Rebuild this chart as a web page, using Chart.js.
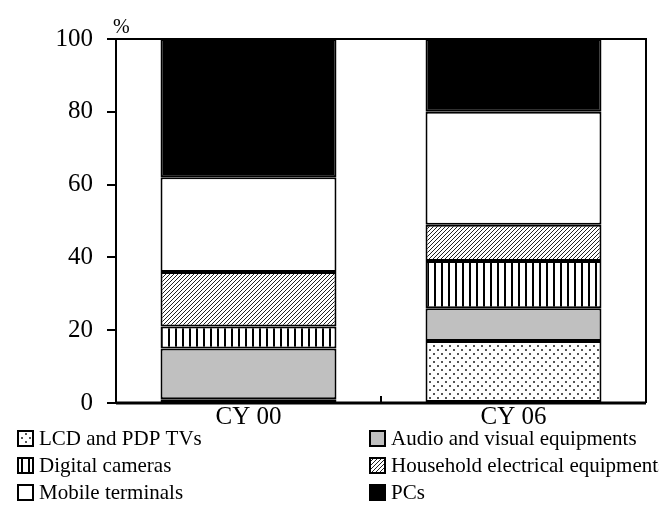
<!DOCTYPE html>
<html>
<head>
<meta charset="utf-8">
<script src="https://cdn.jsdelivr.net/npm/chart.js@4"></script>
<style>
  html, body { margin: 0; padding: 0; background: #fff; overflow: hidden; }
  #wrap { width: 659px; height: 531px; }
</style>
</head>
<body>
<div id="wrap"><canvas id="chart" width="659" height="531"></canvas></div>
<script>
const categories = ['CY 00', 'CY 06'];
const lcd = [1, 17];
const audio = [14, 9];
const digital = [6, 13];
const household = [15, 10];
const mobile = [26, 31];
const pcs = [38, 20];
const yTicks = [0, 20, 40, 60, 80, 100];

const serif = '"Liberation Serif", "Times New Roman", serif';

function makePattern(w, h, draw) {
  const c = document.createElement('canvas');
  c.width = w; c.height = h;
  const g = c.getContext('2d');
  g.fillStyle = '#fff';
  g.fillRect(0, 0, w, h);
  draw(g);
  return c.getContext('2d').createPattern(c, 'repeat');
}

const dots = makePattern(8, 8, g => {
  g.fillStyle = '#555';
  g.fillRect(1, 1, 2, 2);
  g.fillRect(5, 5, 2, 2);
});
const stripes = makePattern(7, 4, g => {
  g.fillStyle = '#000';
  g.fillRect(0, 0, 2, 4);
});
const hatch = makePattern(4, 4, g => {
  g.strokeStyle = '#222';
  g.lineWidth = 1;
  g.beginPath();
  g.moveTo(-1, 5); g.lineTo(5, -1);
  g.moveTo(-1, 1); g.lineTo(1, -1);
  g.moveTo(3, 5); g.lineTo(5, 3);
  g.stroke();
});

const series = [
  { label: 'LCD and PDP TVs', data: lcd, fill: dots },
  { label: 'Audio and visual equipments', data: audio, fill: '#c0c0c0' },
  { label: 'Digital cameras', data: digital, fill: stripes },
  { label: 'Household electrical equipments', data: household, fill: hatch },
  { label: 'Mobile terminals', data: mobile, fill: '#ffffff' },
  { label: 'PCs', data: pcs, fill: '#000000' }
];

const framePlugin = {
  id: 'frame',
  afterDraw(chart) {
    const ctx = chart.ctx;
    const a = chart.chartArea;
    const x = chart.scales.x;
    ctx.save();
    ctx.strokeStyle = '#000';
    ctx.lineWidth = 2;
    ctx.beginPath();
    ctx.moveTo(a.left, a.top);
    ctx.lineTo(a.right, a.top);
    ctx.lineTo(a.right, a.bottom);
    ctx.stroke();
    ctx.lineWidth = 3;
    ctx.beginPath();
    ctx.moveTo(a.left, a.bottom);
    ctx.lineTo(a.right, a.bottom);
    ctx.stroke();
    // tick between the categories
    const mid = (x.getPixelForValue(0) + x.getPixelForValue(1)) / 2;
    ctx.lineWidth = 2;
    ctx.beginPath();
    ctx.moveTo(mid, a.bottom);
    ctx.lineTo(mid, a.bottom - 7);
    ctx.stroke();
    // unit
    ctx.fillStyle = '#000';
    ctx.font = '20px ' + serif;
    ctx.textAlign = 'left';
    ctx.textBaseline = 'bottom';
    ctx.fillText('%', a.left - 3, a.top - 1);
    // legend, two columns
    ctx.font = '21px ' + serif;
    ctx.textBaseline = 'middle';
    chart.data.datasets.forEach((ds, i) => {
      const bx = i % 2 === 0 ? 18 : 370;
      const by = 438 + Math.floor(i / 2) * 27;
      ctx.fillStyle = ds.backgroundColor;
      ctx.fillRect(bx, by - 7, 15, 15);
      ctx.lineWidth = 2;
      ctx.strokeStyle = '#000';
      ctx.strokeRect(bx, by - 7, 15, 15);
      ctx.fillStyle = '#000';
      ctx.fillText(ds.label, bx + 21, by + 1);
    });
    ctx.restore();
  }
};

new Chart(document.getElementById('chart'), {
  type: 'bar',
  data: {
    labels: categories,
    datasets: series.map(s => ({
      label: s.label,
      data: s.data,
      backgroundColor: s.fill,
      borderColor: '#000',
      borderWidth: 2,
      borderSkipped: false,
      barPercentage: 0.664,
      categoryPercentage: 1
    }))
  },
  options: {
    responsive: false,
    animation: false,
    layout: { padding: { top: 39, right: 13, bottom: 68, left: 0 } },
    plugins: { legend: { display: false }, tooltip: { enabled: false } },
    scales: {
      x: {
        stacked: true,
        grid: { display: false },
        border: { display: false },
        ticks: { color: '#000', font: { family: serif, size: 25 }, padding: -9 },
        afterFit: s => { s.height = 60; }
      },
      y: {
        stacked: true,
        min: 0,
        max: 100,
        afterBuildTicks: s => { s.ticks = yTicks.map(v => ({ value: v })); },
        grid: { drawOnChartArea: false, drawTicks: true, tickLength: 9, color: '#000', lineWidth: 2 },
        border: { display: true, color: '#000', width: 2 },
        ticks: { color: '#000', font: { family: serif, size: 25 }, padding: 14 },
        afterFit: s => { s.width = 116; }
      }
    }
  },
  plugins: [framePlugin]
});
</script>
</body>
</html>
